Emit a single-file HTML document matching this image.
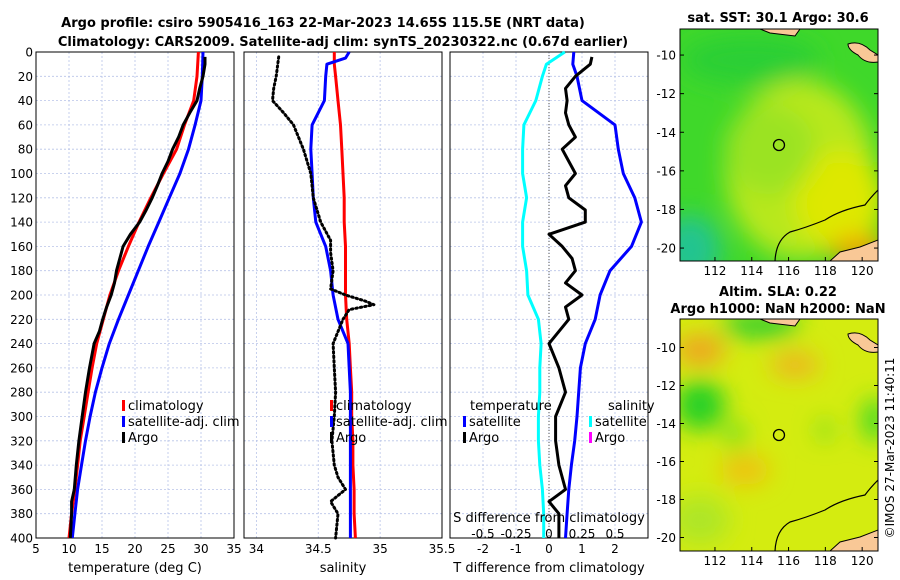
<!DOCTYPE html>
<html><head><meta charset="utf-8">
<style>
html,body{margin:0;padding:0;background:#fff}
svg{display:block;font-family:"DejaVu Sans","Liberation Sans",sans-serif}
</style></head>
<body>
<svg id="c" width="900" height="580" viewBox="0 0 900 580" xmlns="http://www.w3.org/2000/svg">
<defs>
<filter id="blur" x="-20%" y="-20%" width="140%" height="140%"><feGaussianBlur stdDeviation="12"/></filter>
<clipPath id="m1clip"><rect x="680" y="29" width="198" height="232"/></clipPath>
<clipPath id="m2clip"><rect x="680" y="319" width="198" height="232"/></clipPath>
</defs>
<text x="323" y="27" text-anchor="middle" font-size="13" font-weight="bold">Argo profile: csiro 5905416_163 22-Mar-2023 14.65S 115.5E (NRT data)</text>
<text x="343" y="46" text-anchor="middle" font-size="13" font-weight="bold">Climatology: CARS2009. Satellite-adj clim: synTS_20230322.nc (0.67d earlier)</text>

<!-- map 1 -->
<g>
<text x="778" y="22" text-anchor="middle" font-size="13" font-weight="bold">sat. SST: 30.1 Argo: 30.6</text>
<g clip-path="url(#m1clip)">
<rect x="680" y="29" width="198" height="232" fill="#3fd82a"/>
<g filter="url(#blur)">
<ellipse cx="800" cy="170" rx="75" ry="90" fill="#b8e81a"/>
<ellipse cx="840" cy="200" rx="45" ry="50" fill="#dee800"/>
<ellipse cx="770" cy="150" rx="45" ry="45" fill="#9be320"/>
<ellipse cx="690" cy="250" rx="30" ry="35" fill="#20c490"/>
<ellipse cx="860" cy="250" rx="30" ry="14" fill="#f0a000"/>
<ellipse cx="750" cy="60" rx="70" ry="25" fill="#2ccf34"/>
</g>
<path d="M760,29 L800,29 L795,36 L770,33 Z" fill="#f9c896" stroke="#000" stroke-width="1"/>
<path d="M848,44 Q860,40 870,50 L878,55 L878,62 Q865,64 858,55 Q848,50 848,44 Z" fill="#f9c896" stroke="#000" stroke-width="1"/>
<path d="M830,261 L840,252 L860,247 L878,240 L878,261 Z" fill="#f9c896" stroke="#000" stroke-width="1"/>
<path d="M878,190 Q870,198 865,205 Q840,210 825,220 Q805,228 790,232 Q776,240 775,261" fill="none" stroke="#000" stroke-width="1.2"/>
</g>
<rect x="680" y="29" width="198" height="232" fill="none" stroke="#000"/>
<circle cx="779" cy="145" r="5.5" fill="none" stroke="#000" stroke-width="1.3"/>
</g>
<!-- map 2 -->
<g>
<text x="778" y="296" text-anchor="middle" font-size="13" font-weight="bold">Altim. SLA: 0.22</text>
<text x="778" y="313" text-anchor="middle" font-size="13" font-weight="bold">Argo h1000: NaN h2000: NaN</text>
<g clip-path="url(#m2clip)">
<rect x="680" y="319" width="198" height="232" fill="#d4ec10"/>
<g filter="url(#blur)">
<ellipse cx="700" cy="350" rx="25" ry="15" fill="#f0a020"/>
<ellipse cx="795" cy="365" rx="25" ry="12" fill="#f0b020"/>
<ellipse cx="700" cy="405" rx="25" ry="25" fill="#22d028"/>
<ellipse cx="760" cy="325" rx="40" ry="12" fill="#22cc30"/>
<ellipse cx="875" cy="420" rx="12" ry="22" fill="#33d82a"/>
<ellipse cx="735" cy="435" rx="10" ry="14" fill="#66dd20"/>
<ellipse cx="825" cy="430" rx="8" ry="10" fill="#66dd20"/>
<ellipse cx="745" cy="470" rx="25" ry="15" fill="#f0c010"/>
<ellipse cx="700" cy="520" rx="30" ry="25" fill="#aee628"/>
</g>
<path d="M760,319 L800,319 L795,326 L770,323 Z" fill="#f9c896" stroke="#000" stroke-width="1"/>
<path d="M848,334 Q860,330 870,340 L878,345 L878,352 Q865,354 858,345 Q848,340 848,334 Z" fill="#f9c896" stroke="#000" stroke-width="1"/>
<path d="M830,551 L840,542 L860,537 L878,530 L878,551 Z" fill="#f9c896" stroke="#000" stroke-width="1"/>
<path d="M878,480 Q870,488 865,495 Q840,500 825,510 Q805,518 790,522 Q776,530 775,551" fill="none" stroke="#000" stroke-width="1.2"/>
</g>
<rect x="680" y="319" width="198" height="232" fill="none" stroke="#000"/>
<circle cx="779" cy="435" r="5.5" fill="none" stroke="#000" stroke-width="1.3"/>
</g>
<text transform="translate(894,448) rotate(-90)" text-anchor="middle" font-size="12">©IMOS 27-Mar-2023 11:40:11</text>
<g id="plots"></g>
</svg>
<script>
// ---- data ----
const depthTicks = [0,20,40,60,80,100,120,140,160,180,200,220,240,260,280,300,320,340,360,380,400];
const tempTicks = [5,10,15,20,25,30,35];
const salTicks = [34,34.5,35,35.5];
const tdiffTicks = [-2,-1,0,1,2];
const sdiffTicks = [-0.5,-0.25,0,0.25,0.5];
const sdiffTickLabels = ["-0.5","-0.25","0","0.25","0.5"];

const tempClimDepth = [0,20,40,60,80,100,120,140,160,180,200,220,240,260,280,300,320,340,360,380,400];
const tempClim = [29.6,29.4,28.9,27.5,26.3,24.3,22.4,20.6,19.0,17.5,16.2,15.2,14.2,13.5,12.9,12.3,11.7,11.3,10.9,10.4,10.0];
const tempSat = [30.3,30.2,30.0,29.1,28.1,26.8,25.2,23.6,22.0,20.5,19.0,17.5,16.1,15.0,14.0,13.2,12.5,11.9,11.3,10.9,10.5];
const argoDepth = [4,10,20,30,40,50,60,70,80,90,100,110,120,130,140,150,160,170,180,190,200,210,220,230,240,260,280,300,320,340,360,370,380,400];
const tempArgo = [30.6,30.6,30.3,29.8,29.4,28.3,27.3,26.6,25.7,25.0,24.1,23.4,22.6,21.7,20.7,19.3,18.2,17.7,17.2,16.9,16.4,15.7,15.1,14.6,13.8,13.1,12.5,12.0,11.5,11.1,10.8,10.4,10.4,10.2];

const salDepth = [0,5,10,20,40,60,80,100,120,140,160,180,200,220,240,260,280,300,320,340,360,380,400];
const salClim = [34.63,34.63,34.63,34.64,34.66,34.68,34.69,34.70,34.71,34.71,34.72,34.72,34.72,34.73,34.75,34.76,34.77,34.77,34.78,34.78,34.79,34.79,34.80];
const salSat = [34.75,34.72,34.57,34.56,34.55,34.45,34.44,34.45,34.46,34.48,34.56,34.60,34.62,34.66,34.74,34.75,34.76,34.76,34.76,34.76,34.76,34.76,34.76];
const salArgoDepth = [4,20,30,40,50,60,80,100,120,140,155,165,180,195,200,205,208,212,220,240,260,280,300,320,340,350,360,370,380,400];
const salArgo = [34.18,34.16,34.14,34.13,34.22,34.30,34.38,34.44,34.46,34.52,34.60,34.60,34.62,34.60,34.72,34.88,34.95,34.75,34.70,34.62,34.63,34.64,34.63,34.61,34.63,34.66,34.72,34.60,34.66,34.64];

const tdiffArgo = [1.3,1.25,0.8,0.5,0.55,0.5,0.6,0.8,0.4,0.6,0.8,0.5,0.6,1.1,1.1,0.0,0.4,0.7,0.8,0.5,1.0,0.5,0.6,0.3,0.0,0.3,0.5,0.2,0.2,0.3,0.5,0.0,0.3,0.3];
const tdiffSatDepth = [0,10,20,40,60,80,100,120,140,160,180,200,220,240,260,280,300,320,340,360,380,400];
const tdiffSat = [0.75,0.72,0.85,1.0,2.0,2.1,2.25,2.6,2.8,2.5,1.85,1.55,1.4,1.1,0.95,0.9,0.85,0.78,0.68,0.6,0.55,0.5];
const sdiffSat = [0.12,-0.02,-0.05,-0.1,-0.19,-0.2,-0.2,-0.17,-0.2,-0.2,-0.17,-0.16,-0.08,-0.06,-0.07,-0.07,-0.08,-0.08,-0.07,-0.05,-0.04,-0.04];

// ---- drawing ----
const NS="http://www.w3.org/2000/svg";
const root=document.getElementById('plots');
function mk(tag,attrs,parent){const e=document.createElementNS(NS,tag);for(const k in attrs)e.setAttribute(k,attrs[k]);(parent||root).appendChild(e);return e;}
const Y0=52,Y1=538;
function yD(d){return Y0+(d/400)*(Y1-Y0);}
function panel(name,x0,x1,dom,xticks,xlabels,title,yLabels){
  const g=mk('g',{});
  
  
  const xs=v=>x0+(v-dom[0])/(dom[1]-dom[0])*(x1-x0);
  depthTicks.forEach(d=>{
    const l=mk('line',{x1:x0,x2:x1,y1:yD(d),y2:yD(d),stroke:'#b8c4e8','stroke-width':0.8,'stroke-dasharray':'2,2'},g);
    
    
    if(yLabels){const t=mk('text',{x:x0-3,y:yD(d)+4.5,'text-anchor':'end','font-size':12},g);t.textContent=d;
      
      }
  });
  xticks.forEach((v,i)=>{
    const l=mk('line',{x1:xs(v),x2:xs(v),y1:Y0,y2:Y1,stroke:'#b8c4e8','stroke-width':0.8,'stroke-dasharray':'2,2'},g);
    
    
    const t=mk('text',{x:xs(v),y:553,'text-anchor':'middle','font-size':12},g);t.textContent=xlabels[i];
    
    
  });
  const r=mk('rect',{x:x0,y:Y0,width:x1-x0,height:Y1-Y0,fill:'none',stroke:'#000','stroke-width':1},g);
  
  
  const tt=mk('text',{x:(x0+x1)/2,y:572,'text-anchor':'middle','font-size':13},g);tt.textContent=title;
  
  
  return {g,xs};
}
function line(p,depths,vals,color,name,extra){
  const pts=vals.map((v,i)=>p.xs(v).toFixed(1)+','+yD(depths[i]).toFixed(1)).join(' ');
  const a={points:pts,fill:'none',stroke:color,'stroke-width':3,'stroke-linejoin':'round'};
  if(extra)Object.assign(a,extra);
  const e=mk('polyline',a,p.g);
  
  
}
function legend(g,x,y,color,label,name){
  const r=mk('rect',{x:x,y:y-10,width:3,height:11,fill:color},g);
  
  
  const t=mk('text',{x:x+6,y:y,'font-size':13},g);t.textContent=label;
  
  
}
function txt(g,x,y,s,name,anchor){const t=mk('text',{x:x,y:y,'font-size':13,'text-anchor':anchor||'start'},g);t.textContent=s;
  
  }

// panel 1
const p1=panel('temperature-panel',36,234,[5,35],tempTicks,tempTicks.map(String),'temperature (deg C)',true);
line(p1,tempClimDepth,tempClim,'#ff0000','temp-climatology-line');
line(p1,tempClimDepth,tempSat,'#0000ff','temp-satellite-line');
line(p1,argoDepth,tempArgo,'#000000','temp-argo-line');
legend(p1.g,122,410,'#ff0000','climatology','legend-climatology');
legend(p1.g,122,426,'#0000ff','satellite-adj. clim','legend-satellite');
legend(p1.g,122,442,'#000000','Argo','legend-argo');

// panel 2
const p2=panel('salinity-panel',244,442,[33.9,35.5],salTicks,['34','34.5','35','35.5'],'salinity',false);
line(p2,salDepth,salClim,'#ff0000','sal-climatology-line');
line(p2,salDepth,salSat,'#0000ff','sal-satellite-line');
line(p2,salArgoDepth,salArgo,'#000000','sal-argo-line',{'stroke-dasharray':'1.5,3','stroke-linecap':'round'});
legend(p2.g,330,410,'#ff0000','climatology','legend-climatology-2');
legend(p2.g,330,426,'#0000ff','satellite-adj. clim','legend-satellite-2');
legend(p2.g,330,442,'#000000','Argo','legend-argo-2');

// panel 3
const p3=panel('difference-panel',450,648,[-3,3],tdiffTicks,tdiffTicks.map(String),'T difference from climatology',false);
const zl=mk('line',{x1:p3.xs(0),x2:p3.xs(0),y1:Y0,y2:Y1,stroke:'#555','stroke-width':1,'stroke-dasharray':'1,2'},p3.g);


line(p3,tdiffSatDepth,sdiffSat.map(s=>s*4),'#00ffff','sdiff-satellite-line');
line(p3,tdiffSatDepth,tdiffSat,'#0000ff','tdiff-satellite-line');
line(p3,argoDepth,tdiffArgo,'#000000','tdiff-argo-line');
txt(p3.g,470,410,'temperature','legend-temperature-heading');
legend(p3.g,463,426,'#0000ff','satellite','legend-t-satellite');
legend(p3.g,463,442,'#000000','Argo','legend-t-argo');
txt(p3.g,608,410,'salinity','legend-salinity-heading');
legend(p3.g,589,426,'#00ffff','satellite','legend-s-satellite');
legend(p3.g,589,442,'#ff00ff','Argo','legend-s-argo');
txt(p3.g,549,522,'S difference from climatology','s-axis-title','middle');
sdiffTicks.forEach((v,i)=>{const t=mk('text',{x:p3.xs(v*4),y:538,'text-anchor':'middle','font-size':12},p3.g);t.textContent=sdiffTickLabels[i];
  
  });

// map axes
function mapAxes(name,top,latTop,pxPerLat){
  const g=mk('g',{});
  
  
  [-10,-12,-14,-16,-18,-20].forEach(la=>{
    const y=top+(latTop-la)*pxPerLat;
    mk('line',{x1:878,x2:874,y1:y,y2:y,stroke:'#000'},g);
    mk('line',{x1:680,x2:684,y1:y,y2:y,stroke:'#000'},g);
    const t=mk('text',{x:676,y:y+4.5,'font-size':12,'text-anchor':'end'},g);t.textContent=la;
    
    
  });
  [112,114,116,118,120].forEach(lo=>{
    const x=680+(lo-110.1)*18.4;
    mk('line',{x1:x,x2:x,y1:top+232,y2:top+228,stroke:'#000'},g);
    const t=mk('text',{x:x,y:top+232+14,'text-anchor':'middle','font-size':12},g);t.textContent=lo;
    
    
  });
}
mapAxes('sst-map-axes',29,-8.65,19.3);
mapAxes('sla-map-axes',319,-8.5,19.0);
</script>
</body></html>
